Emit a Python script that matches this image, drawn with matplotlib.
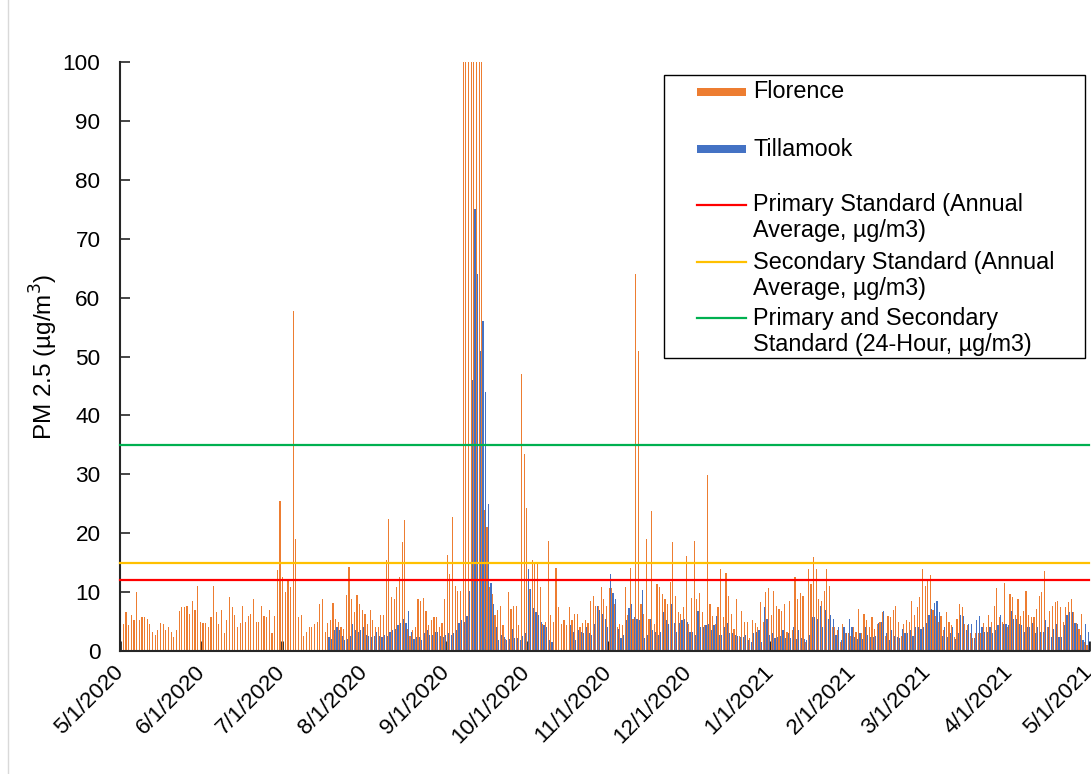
import numpy as np
import pandas as pd
import matplotlib
matplotlib.use('Agg')
import matplotlib.pyplot as plt
from matplotlib.patches import Rectangle
from matplotlib.lines import Line2D

plt.rcParams['font.family'] = ['Liberation Sans', 'DejaVu Sans']

NA = np.nan

# ---- Daily PM2.5 (ug/m3), 5/1/2020 - 4/30/2021 ----
florence_may = [4.0, 4.6, 6.6, 4.4, 6.1, 5.2, 10.0, 5.2, 5.7, 5.7, 5.4, 4.6, 3.3, 2.8, 3.5, 4.8,
                4.6, 3.5, 4.0, 3.3, 2.4, 3.5, 6.8, 7.5, 7.5, 7.6, 6.3, 8.5, 7.0, 11.1, 5.0]
florence_jun = [4.8, 4.8, 4.1, 5.7, 11.1, 6.6, 4.6, 7.0, 3.1, 5.3, 9.2, 7.5, 6.1, 4.1, 4.8,
                7.6, 5.0, 5.9, 6.3, 8.8, 5.0, 5.0, 7.6, 5.9, 5.7, 7.0, 3.1, 6.0, 13.8, 25.5]
florence_jul = [12.6, 10.0, 11.8, 10.9, 57.8, 19.0, 5.7, 6.1, 2.6, 3.3, 4.0, 4.1, 4.6, 5.0, 7.9, 8.8,
                3.3, 4.8, 5.3, 8.1, 5.5, 5.0, 4.0, 3.7, 9.5, 14.2, 8.9, 6.6, 9.5, 7.9, 7.0]
florence_aug = [6.3, 4.6, 7.0, 5.3, 4.1, 4.0, 6.1, 6.1, 15.5, 22.4, 9.2, 8.8, 10.8, 12.5, 18.5, 22.2,
                3.8, 2.6, 3.5, 4.1, 8.8, 8.5, 9.0, 6.8, 4.4, 5.3, 5.7, 5.7, 4.0, 4.8, 8.8]
florence_sep = [16.3, 13.0, 22.8, 11.1, 10.2, 10.2, 110, 180, 240, 260, 230, 200, 150, 105,
                24.0, 21.0, 10.9, 9.6, 6.1, 7.0, 7.6, 4.4, 2.0, 10.0, 7.2, 7.6, 7.6, 4.4, 47.0, 33.5]
florence_oct = [24.2, 10.5, 15.4, 15.0, 15.0, 10.9, 4.6, 5.0, 18.7, 6.1, 5.0, 14.1, 7.5, 4.6, 5.3, 4.4,
                7.5, 5.3, 6.3, 6.3, 4.1, 4.8, 5.3, 4.8, 8.5, 9.4, 7.6, 7.6, 10.9, 8.8, 7.6]
florence_nov = [10.7, 10.7, 8.0, 4.1, 4.6, 4.4, 10.9, 6.1, 14.1, 5.5, 64.0, 51.0, 8.0, 6.3, 19.0,
                5.4, 23.7, 4.6, 11.3, 10.9, 9.6, 8.9, 7.9, 11.7, 18.5, 9.4, 6.6, 6.3, 7.4, 16.1]
florence_dec = [4.6, 9.0, 18.7, 8.8, 9.8, 6.6, 4.4, 29.8, 8.0, 5.9, 4.5, 7.4, 13.9, 5.7, 13.3, 9.4,
                6.3, 3.7, 8.8, 2.5, 6.8, 5.0, 5.0, 2.2, 5.3, 4.8, 4.0, 8.3, 5.0, 10.0, 10.7]
florence_jan = [6.1, 10.2, 7.6, 7.2, 6.8, 7.9, 3.3, 8.5, 3.5, 12.6, 8.9, 9.8, 9.4, 1.5, 14.0, 11.3,
                16.0, 13.9, 8.8, 8.5, 10.2, 13.9, 11.1, 4.0, 4.0, 3.5, 1.5, 4.6, 3.1, 3.0, 2.5]
florence_feb = [4.0, 3.3, 7.2, 3.0, 6.3, 5.3, 4.0, 5.7, 3.7, 4.5, 5.0, 6.6, 2.6, 5.9, 5.7, 7.0, 7.6,
                5.0, 2.5, 4.6, 5.3, 5.0, 8.5, 6.1, 7.4, 9.1, 13.9, 11.1]
florence_mar = [12.0, 12.9, 7.0, 6.0, 5.0, 5.9, 3.5, 6.6, 5.0, 4.4, 2.3, 5.5, 7.9, 7.4, 4.6, 4.4,
                3.0, 2.2, 3.0, 3.0, 3.0, 4.8, 4.0, 6.1, 5.0, 7.6, 10.7, 5.7, 5.0, 11.6, 4.1]
florence_apr = [9.6, 9.2, 6.1, 8.8, 5.9, 6.8, 10.2, 6.1, 5.7, 5.7, 7.2, 9.4, 10.0, 13.5, 4.0, 6.8,
                7.6, 8.3, 8.5, 7.4, 5.0, 7.4, 8.3, 8.8, 6.6, 4.8, 3.7, 6.3, 1.5, 1.0]

tillamook_may = [NA] * 31
tillamook_jun = [NA] * 30
tillamook_jul = [NA] * 17 + [2.4, 2.0, 3.6, 4.0, 3.6, 2.6, 1.8, 2.0, 2.6, 4.6, 3.5, 3.3, 3.5, 4.0]
tillamook_aug = [2.8, 2.6, 2.4, 2.6, 3.3, 2.6, 2.4, 2.8, 2.6, 3.3, 3.5, 3.7, 4.4, 4.8, 5.5, 4.8,
                 6.8, 3.3, 2.0, 2.4, 2.4, 1.9, 3.1, 3.5, 2.8, 2.8, 3.3, 3.3, 2.6, 2.4, 2.8]
tillamook_sep = [3.1, 2.8, 3.1, 3.5, 4.8, 5.3, 5.0, 6.0, 10.2, 46.0, 75.0, 64.0, 51.0, 56.0,
                 44.0, 25.0, 11.5, 8.0, 4.0, 1.9, 2.8, 2.4, 1.9, 2.0, 3.7, 2.2, 2.2, 1.8, 2.5, 3.0]
tillamook_oct = [13.9, 10.5, 7.3, 6.6, 6.1, 5.0, 4.4, 4.0, 1.8, 1.5, NA, NA, NA, NA, NA, NA,
                 4.4, 3.3, 1.9, 3.5, 3.3, 3.1, 4.1, 3.0, 2.8, 4.6, 7.6, 7.0, 6.3, 5.5, 4.0]
tillamook_nov = [13.1, 9.8, 8.9, 3.7, 2.2, 2.8, 5.3, 7.3, 7.9, 5.7, 5.5, 5.3, 10.4, 2.2, 2.8,
                 5.5, 3.5, 3.3, 2.8, 3.3, 6.6, 5.3, 4.6, 7.9, 4.8, 3.3, 4.8, 5.3, 5.5, 5.0]
tillamook_dec = [3.3, 3.3, 2.8, 6.8, 4.1, 4.1, 4.4, 4.5, 3.5, 4.4, 5.9, 2.8, 2.8, 4.0, 4.8, 3.1,
                 3.1, 2.8, 2.6, 2.4, 2.4, 2.8, 1.9, 1.5, 3.0, 3.3, 3.5, 1.5, 7.4, 5.5, 2.8]
tillamook_jan = [3.1, 2.2, 2.4, 2.6, 3.5, 2.2, 3.1, 2.2, 4.0, 2.0, 3.5, 2.2, 2.0, 1.8, 2.8, 5.7,
                 5.7, 5.5, 7.6, 4.0, 7.0, 5.5, 6.1, 5.5, 2.8, 4.0, 1.8, 4.1, 3.1, 5.5, 4.0]
tillamook_feb = [2.4, 2.0, 3.1, 2.0, 4.1, 2.8, 2.4, 2.4, 2.6, 4.8, 5.0, 6.8, 3.1, 1.8, 3.5, 2.6,
                 2.4, 2.2, 3.7, 3.1, 3.1, 3.5, 2.6, 4.0, 4.0, 3.7, 4.0, 4.8]
tillamook_mar = [6.1, 7.2, 8.1, 8.5, 6.6, 2.6, 4.0, 2.4, 3.1, 4.1, 2.0, 3.1, 6.1, 5.9, 3.5, 4.6,
                 4.6, 2.2, 5.3, 5.9, 4.1, 3.3, 3.3, 4.0, 3.1, 3.5, 4.4, 6.1, 4.6, 4.6, 4.4]
tillamook_apr = [6.8, 5.5, 5.5, 4.6, 4.4, 3.3, 4.0, 4.0, 4.8, 3.1, 4.0, 3.3, 3.3, 5.3, 4.0, 2.4,
                 3.7, 4.6, 2.4, 2.4, 4.4, 6.1, 6.6, 6.6, 4.8, 4.6, 2.8, 1.8, 4.6, 3.3]

primary_annual = 12.0
secondary_annual = 15.0
standard_24h = 35.0

series_labels = ['Florence', 'Tillamook']
standard_labels = [['Primary Standard (Annual', 'Average, µg/m3)'],
                   ['Secondary Standard (Annual', 'Average, µg/m3)'],
                   ['Primary and Secondary', 'Standard (24-Hour, µg/m3)']]

florence = np.array(florence_may + florence_jun + florence_jul + florence_aug + florence_sep +
                    florence_oct + florence_nov + florence_dec + florence_jan + florence_feb +
                    florence_mar + florence_apr, dtype=float)
tillamook = np.array(tillamook_may + tillamook_jun + tillamook_jul + tillamook_aug + tillamook_sep +
                     tillamook_oct + tillamook_nov + tillamook_dec + tillamook_jan + tillamook_feb +
                     tillamook_mar + tillamook_apr, dtype=float)
dates = pd.date_range('2020-05-01', periods=len(florence), freq='D')
month_ticks = pd.date_range('2020-05-01', '2021-05-01', freq='MS')

C_FL = '#ED7D31'
C_TI = '#4472C4'
C_RED = '#FF0000'
C_YEL = '#FFC000'
C_GRN = '#00B050'
FS = 16.2

W, H = 1091, 774
fig = plt.figure(figsize=(W / 100, H / 100), dpi=100)
ax = fig.add_axes([120 / W, 1 - 651 / H, (1089 - 120) / W, (651 - 62) / H])

# clustered columns: Florence in the left half of each day slot, Tillamook in the right half
bw = pd.Timedelta(hours=10.5)
ax.bar(dates + pd.Timedelta(hours=1), florence, width=bw, align='edge', color=C_FL, lw=0, zorder=2)
ax.bar(dates + pd.Timedelta(hours=12), tillamook, width=bw, align='edge', color=C_TI, lw=0, zorder=2)

ax.axhline(primary_annual, color=C_RED, lw=1.6, zorder=4, clip_on=False)
ax.axhline(secondary_annual, color=C_YEL, lw=1.6, zorder=4, clip_on=False)
ax.axhline(standard_24h, color=C_GRN, lw=1.6, zorder=4, clip_on=False)

ax.set_xlim(month_ticks[0], month_ticks[-1])
ax.set_ylim(0, 100)
ax.set_yticks(np.arange(0, 101, 10))
ax.set_xticks(month_ticks)
ax.set_xticklabels([f'{d.month}/{d.day}/{d.year}' for d in month_ticks],
                   rotation=45, ha='right', va='center', rotation_mode='anchor', fontsize=FS)
ax.tick_params(axis='x', direction='in', length=7, width=2, color='#262626', pad=13)
ax.tick_params(axis='y', direction='in', length=7, width=1.2, color='#262626', labelsize=FS, pad=14)
for s in ['top', 'right']:
    ax.spines[s].set_visible(False)
for s in ['left', 'bottom']:
    ax.spines[s].set_color('#262626')
    ax.spines[s].set_linewidth(1.5)
ax.set_ylabel('PM 2.5 (µg/m$^3$)', fontsize=17.5, labelpad=2)

# ---- legend (manual, to match the spreadsheet layout) ----
def fx(x):
    return x / W

def fy(y):
    return 1 - y / H

fig.add_artist(Line2D([fx(8), fx(8)], [0, 1], transform=fig.transFigure, color='#d9d9d9', lw=1))
fig.add_artist(Rectangle((fx(664), fy(358)), fx(1085) - fx(664), fy(75) - fy(358),
                         transform=fig.transFigure, facecolor='white', edgecolor='black', lw=1, zorder=10))
LFS = 16.8
for lab, col, yy in zip(series_labels, [C_FL, C_TI], [92, 149]):
    fig.add_artist(Rectangle((fx(697), fy(yy + 4)), fx(746) - fx(697), fy(yy - 4) - fy(yy + 4),
                             transform=fig.transFigure, facecolor=col, edgecolor='none', zorder=11))
    fig.text(fx(753), fy(yy), lab, fontsize=LFS, va='center', ha='left', zorder=11)
for lines, col, yy in zip(standard_labels, [C_RED, C_YEL, C_GRN], [205, 262, 318]):
    fig.add_artist(Line2D([fx(697), fx(746)], [fy(yy), fy(yy)], transform=fig.transFigure,
                          color=col, lw=1.6, zorder=11))
    fig.text(fx(753), fy(yy), lines[0], fontsize=LFS, va='center', ha='left', zorder=11)
    fig.text(fx(753), fy(yy + 26), lines[1], fontsize=LFS, va='center', ha='left', zorder=11)

fig.savefig('out.png', dpi=100)
